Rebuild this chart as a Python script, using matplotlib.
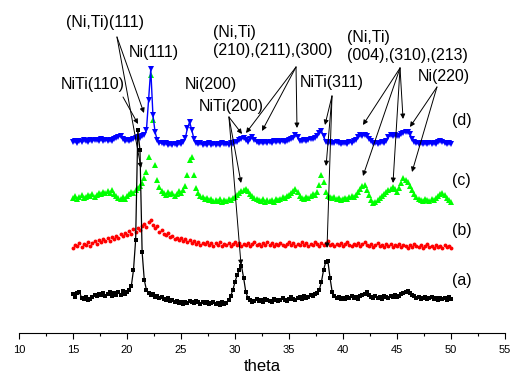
import numpy as np
import matplotlib
matplotlib.use("Agg")
import matplotlib.pyplot as plt

plt.rcParams['font.family'] = ['Liberation Sans', 'DejaVu Sans']

# 2theta grid, 15..50 step 0.2
theta = np.linspace(15, 50, 176)

# (a) black
int_a = [39, 36, 40, 41, 35, 34,
         36, 33, 34, 36, 38,
         37, 39, 38, 40, 37,
         39, 41, 37, 40, 38,
         41, 38, 42, 39, 41,
         43, 47, 63, 93, 203,
         183, 81, 53, 43, 40,
         38, 39, 36, 37, 35,
         36, 34, 33, 35, 32,
         33, 31, 32, 30, 31,
         29, 31, 30, 32, 31,
         30, 32, 31, 29, 31,
         30, 31, 29, 30, 31,
         29, 30, 28, 31, 29,
         30, 33, 37, 43, 51,
         58, 63, 67, 55, 41,
         35, 33, 31, 32, 34,
         32, 33, 31, 34, 33,
         32, 31, 34, 33, 32,
         33, 35, 33, 32, 34,
         36, 34, 33, 35, 36,
         34, 37, 35, 36, 38,
         37, 39, 40, 43, 51,
         63, 71, 72, 55, 41,
         37, 35, 36, 34, 35,
         34, 36, 35, 37, 35,
         36, 34, 37, 38, 39,
         41, 38, 36, 35, 37,
         35, 36, 34, 37, 36,
         35, 37, 36, 38, 36,
         37, 39, 40, 41, 42,
         40, 38, 37, 35, 36,
         34, 35, 36, 34, 35,
         36, 34, 35, 33, 35,
         34, 35, 33, 36, 34]

# (b) red
int_b = [85, 88, 87, 90, 86, 89,
         88, 91, 87, 90, 92,
         89, 93, 91, 94, 92,
         95, 92, 96, 94, 97,
         95, 99, 97, 100, 98,
         102, 99, 104, 101, 105,
         103, 107, 109, 106, 111,
         113, 108, 105, 107, 101,
         103, 99, 98, 100, 96,
         97, 94, 95, 93, 95,
         92, 94, 91, 93, 90,
         92, 89, 91, 88, 90,
         89, 91, 88, 90, 87,
         90, 88, 91, 87, 89,
         88, 90, 87, 89, 91,
         88, 90, 87, 89, 88,
         90, 87, 89, 91, 88,
         89, 87, 90, 88, 91,
         88, 90, 87, 89, 88,
         90, 88, 87, 89, 91,
         88, 90, 87, 89, 88,
         91, 88, 90, 87, 89,
         88, 91, 89, 87, 90,
         88, 90, 92, 88, 89,
         87, 89, 88, 90, 87,
         89, 91, 88, 87, 89,
         88, 90, 87, 89, 91,
         88, 87, 89, 86, 88,
         90, 87, 88, 86, 89,
         87, 89, 86, 88, 87,
         89, 86, 88, 87, 85,
         88, 86, 89, 87, 86,
         88, 85, 87, 89, 86,
         87, 85, 88, 86, 87,
         85, 88, 86, 87, 85]

# (c) green
int_c = [135, 137, 134, 136, 138, 135,
         136, 138, 137, 139, 136,
         138, 140, 139, 141, 140,
         142, 140, 143, 139, 137,
         135, 134, 136, 134, 137,
         139, 141, 140, 143, 145,
         147, 150, 155, 161, 176,
         258, 213, 168, 153, 146,
         142, 140, 138, 141, 139,
         140, 137, 139, 142, 140,
         143, 147, 158, 173, 176,
         158, 145, 140, 137, 136,
         134, 135, 133, 134, 132,
         133, 132, 134, 131, 133,
         132, 134, 133, 135, 136,
         138, 140, 142, 143, 144,
         142, 139, 137, 135, 134,
         133, 132, 134, 131, 133,
         132, 133, 131, 134, 133,
         134, 136, 135, 137, 138,
         140, 142, 144, 141, 137,
         135, 134, 136, 135, 137,
         139, 138, 141, 148, 158,
         151, 141, 137, 136, 135,
         136, 134, 135, 133, 134,
         135, 134, 136, 137, 136,
         138, 141, 144, 147, 148,
         143, 138, 133, 130, 131,
         133, 135, 137, 139, 141,
         143, 144, 146, 144, 141,
         145, 150, 155, 153, 151,
         147, 143, 139, 136, 134,
         133, 132, 134, 133, 132,
         134, 133, 135, 137, 139,
         140, 138, 135, 133, 131]

# (d) blue
int_d = [191, 192, 190, 192, 191, 193,
         192, 191, 193, 192, 193,
         193, 192, 194, 192, 193,
         192, 193, 192, 194, 195,
         196, 197, 194, 192, 193,
         192, 193, 194, 195, 196,
         195, 197, 198, 203, 233,
         264, 218, 201, 193, 190,
         190, 189, 190, 188, 189,
         188, 189, 188, 190, 189,
         191, 195, 205, 211, 203,
         194, 190, 189, 190, 188,
         189, 188, 190, 188, 189,
         188, 189, 188, 190, 189,
         189, 188, 190, 189, 191,
         191, 193, 194, 195, 193,
         191, 194, 196, 193, 191,
         190, 191, 190, 191, 190,
         191, 190, 192, 191, 192,
         191, 192, 191, 192, 193,
         194, 195, 198, 196, 192,
         192, 193, 192, 193, 194,
         194, 195, 197, 200, 202,
         197, 191, 190, 191, 190,
         190, 191, 190, 189, 190,
         190, 189, 191, 190, 192,
         193, 196, 198, 197, 198,
         197, 194, 192, 190, 190,
         189, 190, 191, 190, 192,
         196, 198, 197, 198, 197,
         197, 199, 200, 201, 201,
         199, 194, 191, 190, 189,
         190, 189, 190, 189, 190,
         189, 190, 189, 191, 192,
         191, 190, 189, 190, 189]

fig = plt.figure(figsize=(5.12, 3.77), dpi=100)
ax = fig.add_axes([19 / 512, 1 - 333 / 377, 486 / 512, 333 / 377])

ax.plot(theta, int_b, 'o', color='#ff0000', ms=2.8, mew=0, zorder=2)
ax.plot(theta, int_c, '^', color='#00ff00', ms=3.8, mew=0, zorder=3)
ax.plot(theta, int_d, '-v', color='#0000ff', lw=1.0, ms=3.8, mew=0, zorder=4)
ax.plot(theta, int_a, '-s', color='black', lw=0.9, ms=2.8, mew=0, zorder=5)

ax.set_xlim(10, 55)
ax.set_ylim(0, 333)
ax.set_xticks(np.arange(10, 56, 5))
ax.set_xticks(np.arange(12.5, 55, 5), minor=True)
ax.tick_params(axis='x', which='major', direction='out', length=4.5, width=0.8,
               labelsize=8, pad=4)
ax.tick_params(axis='x', which='minor', direction='out', length=2.5, width=0.8)
ax.set_yticks([])
for s in ['top', 'right', 'left']:
    ax.spines[s].set_visible(False)
ax.spines['bottom'].set_linewidth(0.8)
ax.set_xlabel('theta', fontsize=12, labelpad=3)

fs = 11.5
for lab, yy in [('(d)', 213), ('(c)', 153), ('(b)', 103), ('(a)', 53)]:
    ax.text(50.1, yy, lab, fontsize=fs, ha='left', va='center')

arrow = dict(arrowstyle='-|>', color='black', lw=0.7, mutation_scale=7,
             shrinkA=0, shrinkB=0)


def label_arrows(text, text_xy, start, targets, ha='center'):
    ax.text(text_xy[0], text_xy[1], text, fontsize=fs, ha=ha, va='center',
            linespacing=1.3, zorder=6)
    for t in targets:
        ax.annotate('', xy=t, xytext=start, arrowprops=arrow, zorder=6)


label_arrows('(Ni,Ti)(111)', (17.96, 311), (19.07, 296),
             [(21.57, 220), (21.30, 165)])
label_arrows('NiTi(110)', (16.85, 249), (19.63, 236), [(21.02, 209)])
label_arrows('Ni(111)', (22.5, 280), None, [])
label_arrows('Ni(200)', (27.78, 249), None, [])
label_arrows('NiTi(200)', (29.63, 227), (29.44, 216),
             [(30.65, 199), (30.56, 150), (30.56, 68)])
label_arrows('(Ni,Ti)\n(210),(211),(300)', (27.96, 291.5), (35.65, 266),
             [(31.02, 200), (32.5, 202), (35.74, 205)], ha='left')
label_arrows('NiTi(311)', (38.98, 250), (38.98, 237),
             [(38.33, 208), (38.43, 167), (38.52, 85)])
label_arrows('(Ni,Ti)\n(004),(310),(213)', (40.37, 286.5), (45.28, 265),
             [(41.85, 208), (45.56, 214), (41.85, 157), (44.63, 150)], ha='left')
label_arrows('Ni(220)', (49.35, 257), (48.7, 246),
             [(46.2, 206), (46.39, 161)])

fig.savefig('out.png', dpi=100)
